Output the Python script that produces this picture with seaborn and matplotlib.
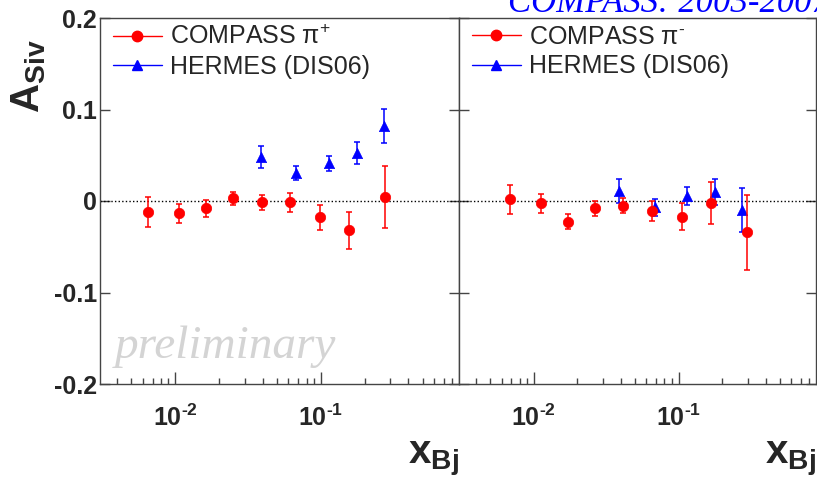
import numpy as np
import pandas as pd
import matplotlib
matplotlib.use('Agg')
import matplotlib.pyplot as plt
import seaborn as sns
from matplotlib.lines import Line2D
from matplotlib.ticker import LogLocator, NullFormatter

sns.set_theme(style='white')
plt.rcParams['font.family'] = ['Liberation Sans', 'DejaVu Sans']
plt.rcParams['mathtext.fontset'] = 'custom'
plt.rcParams['mathtext.rm'] = 'Liberation Sans'
plt.rcParams['mathtext.bf'] = 'Liberation Sans:bold'
plt.rcParams['mathtext.it'] = 'Liberation Sans:italic'

# ---------------- data ----------------
# COMPASS pi+  (left panel)
compass_pip_x = [0.0065, 0.0106, 0.0164, 0.0249, 0.0394, 0.0618, 0.0993, 0.157, 0.277]
compass_pip_y = [-0.012, -0.0135, -0.008, 0.003, -0.0015, -0.0015, -0.018, -0.032, 0.004]
compass_pip_err = [0.016, 0.010, 0.009, 0.007, 0.0086, 0.0105, 0.014, 0.020, 0.034]
# HERMES pi+ (left panel)
hermes_pip_x = [0.0387, 0.0673, 0.114, 0.177, 0.273]
hermes_pip_y = [0.048, 0.031, 0.041, 0.052, 0.082]
hermes_pip_err = [0.012, 0.0077, 0.008, 0.012, 0.019]
# COMPASS pi- (right panel)
compass_pim_x = [0.00684, 0.0112, 0.0173, 0.0264, 0.0417, 0.0659, 0.106, 0.168, 0.297]
compass_pim_y = [0.002, -0.0025, -0.0226, -0.008, -0.005, -0.011, -0.017, -0.0025, -0.034]
compass_pim_err = [0.016, 0.0105, 0.0085, 0.008, 0.0085, 0.011, 0.015, 0.023, 0.041]
# HERMES pi- (right panel)
hermes_pim_x = [0.0389, 0.0684, 0.115, 0.179, 0.276]
hermes_pim_y = [0.0113, -0.007, 0.0058, 0.0098, -0.0098]
hermes_pim_err = [0.013, 0.009, 0.0097, 0.0145, 0.024]

legend_left = ['COMPASS π$^{+}$', 'HERMES (DIS06)']
legend_right = ['COMPASS π$^{\u2010}$', 'HERMES (DIS06)']
ytick_vals = [-0.2, -0.1, 0.0, 0.1, 0.2]
ytick_labels = ['-0.2', '-0.1', '0', '0.1', '0.2']
xtick_vals = [0.01, 0.1]
xtick_labels = ['$\\mathbf{10^{\u20102}}$', '$\\mathbf{10^{\u20101}}$']

RED = '#ff0000'
BLUE = '#0000ff'
FRAME = '#444444'

W, H = 817, 479
fig = plt.figure(figsize=(W / 100, H / 100), dpi=100)
ax1 = fig.add_axes([100 / W, 1 - 384 / H, 359 / W, 366 / H])
ax2 = fig.add_axes([459 / W, 1 - 384 / H, 357 / W, 366 / H])


def draw(ax, cx, cy, ce, hx, hy, he, labels, show_ylabels):
    ax.set_xscale('log')
    ax.set_xlim(0.00305, 0.89)
    ax.set_ylim(-0.2, 0.2)
    ax.axhline(0, color='black', ls=(0, (1, 1.6)), lw=1.0, zorder=1)
    cdf = pd.DataFrame({'x': cx, 'y': cy, 'e': ce})
    hdf = pd.DataFrame({'x': hx, 'y': hy, 'e': he})
    ax.errorbar(hdf['x'], hdf['y'], yerr=hdf['e'], fmt='none', ecolor=BLUE,
                elinewidth=1.1, capsize=2.0, capthick=1.1, zorder=2)
    sns.scatterplot(data=hdf, x='x', y='y', marker='^', color=BLUE, s=55,
                    edgecolor=BLUE, linewidth=0.5, ax=ax, zorder=3)
    ax.errorbar(cdf['x'], cdf['y'], yerr=cdf['e'], fmt='none', ecolor=RED,
                elinewidth=1.1, capsize=2.0, capthick=1.1, zorder=4)
    sns.scatterplot(data=cdf, x='x', y='y', marker='o', color=RED, s=56,
                    edgecolor=RED, linewidth=0.5, ax=ax, zorder=5)
    ax.set_xlabel('')
    ax.set_ylabel('')
    ax.set_xticks(xtick_vals, labels=xtick_labels)
    ax.xaxis.set_minor_locator(LogLocator(base=10, subs=np.arange(2, 10)))
    ax.xaxis.set_minor_formatter(NullFormatter())
    ax.set_yticks(ytick_vals, labels=ytick_labels if show_ylabels else [])
    ax.tick_params(axis='x', which='major', direction='in', length=8.6, width=1.0,
                   color=FRAME, labelsize=18, pad=15, bottom=True, top=False)
    ax.tick_params(axis='x', which='minor', direction='in', length=4.6, width=1.0,
                   color=FRAME, bottom=True, top=False)
    ax.tick_params(axis='y', which='major', direction='in', length=7.2, width=1.0,
                   color=FRAME, labelsize=18, pad=2, left=True, right=True)
    for lab in ax.get_yticklabels():
        lab.set_fontweight('bold')
    for s in ax.spines.values():
        s.set_color(FRAME)
        s.set_linewidth(1.0)
    ax.grid(False)
    handles = [Line2D([], [], color=RED, marker='o', lw=1.0, markersize=7.5),
               Line2D([], [], color=BLUE, marker='^', lw=1.0, markersize=6.5)]
    ax.legend(handles=handles, labels=labels, loc='upper left',
              bbox_to_anchor=(0.036, 0.981), frameon=False, fontsize=18,
              handlelength=1.95, handletextpad=0.35, labelspacing=0.22,
              borderpad=0, borderaxespad=0)


draw(ax1, compass_pip_x, compass_pip_y, compass_pip_err,
     hermes_pip_x, hermes_pip_y, hermes_pip_err, legend_left, True)
draw(ax2, compass_pim_x, compass_pim_y, compass_pim_err,
     hermes_pim_x, hermes_pim_y, hermes_pim_err, legend_right, False)

# axis titles
fig.text(29 / W, 1 - 76 / H, r'$\mathbf{A_{Siv}}$', rotation=90, fontsize=29,
         ha='center', va='center')
fig.text(459 / W, 1 - 463 / H, r'$\mathbf{x_{Bj}}$', fontsize=29,
         ha='right', va='baseline')
fig.text(816 / W, 1 - 463 / H, r'$\mathbf{x_{Bj}}$', fontsize=29,
         ha='right', va='baseline')

fig.text(115 / W, 1 - 358 / H, 'preliminary', family='Liberation Serif',
         style='italic', color='#d4d4d4', fontsize=34, va='baseline')
fig.text(508 / W, 1 - 12 / H, 'COMPASS: 2003-2007', family='Liberation Serif',
         style='italic', color=BLUE, fontsize=25, va='baseline')

fig.savefig('out.png', dpi=100)
